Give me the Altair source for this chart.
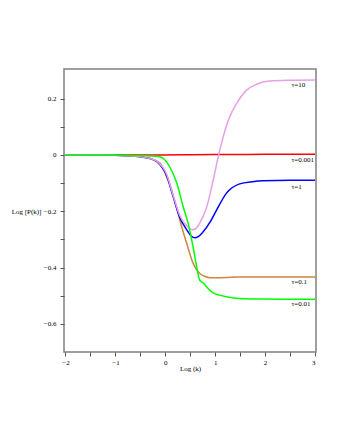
import altair as alt
import pandas as pd

# ---- data ----
red_x = [-2, -1, 0, 0.5, 1, 1.5, 2, 2.5, 3]
red_y = [0, 0, 0, 0.0005, 0.001, 0.0015, 0.002, 0.002, 0.002]

violet_x = [-2, -1.5, -1, -0.75, -0.5, -0.3, -0.17, 0.03, 0.16, 0.29, 0.43, 0.49, 0.55, 0.62,
            0.69, 0.83, 0.96, 1.06, 1.16, 1.29, 1.43, 1.63, 1.83, 2.09, 2.5, 3]
violet_y = [0, 0, -0.001, -0.003, -0.007, -0.013, -0.022, -0.07, -0.145, -0.215, -0.252, -0.262,
            -0.266, -0.26, -0.242, -0.185, -0.09, -0.007, 0.064, 0.135, 0.183, 0.23, 0.251,
            0.262, 0.265, 0.266]

blue_x = [-2, -1.5, -1, -0.75, -0.5, -0.3, -0.17, 0.03, 0.16, 0.29, 0.43, 0.52, 0.59, 0.66,
          0.75, 0.9, 1.03, 1.23, 1.49, 1.75, 1.96, 2.5, 3]
blue_y = [0, 0, -0.001, -0.003, -0.007, -0.013, -0.024, -0.075, -0.15, -0.222, -0.266, -0.288,
          -0.294, -0.29, -0.275, -0.238, -0.195, -0.135, -0.103, -0.095, -0.092, -0.09, -0.09]

brown_x = [-2, -1.5, -1, -0.75, -0.5, -0.3, -0.1, 0.03, 0.09, 0.23, 0.33, 0.43, 0.56, 0.69,
           0.8, 0.89, 1.0, 1.49, 2, 2.5, 3]
brown_y = [0, 0, -0.001, -0.003, -0.007, -0.014, -0.03, -0.08, -0.105, -0.19, -0.256, -0.315,
           -0.386, -0.421, -0.432, -0.436, -0.436, -0.434, -0.434, -0.434, -0.434]

green_x = [-2, -1.5, -1, -0.5, -0.3, -0.11, 0.09, 0.23, 0.36, 0.46, 0.56, 0.63, 0.69, 0.76,
           0.83, 0.9, 0.96, 1.09, 1.25, 1.49, 2, 2.5, 3]
green_y = [0, 0, -0.001, -0.003, -0.004, -0.007, -0.043, -0.10, -0.185, -0.245, -0.33, -0.398,
           -0.445, -0.455, -0.469, -0.482, -0.49, -0.498, -0.505, -0.51, -0.512, -0.513, -0.513]

series = [
    ("τ=0.001", red_x, red_y, "#FF0000"),
    ("τ=0.1", brown_x, brown_y, "#CD853F"),
    ("τ=1", blue_x, blue_y, "#0000FF"),
    ("τ=10", violet_x, violet_y, "#E6A0E6"),
    ("τ=0.01", green_x, green_y, "#00FF00"),
]

label_text = ["τ=10", "τ=0.001", "τ=1", "τ=0.1", "τ=0.01"]
label_x = [2.53, 2.53, 2.53, 2.53, 2.53]
label_y = [0.247, -0.019, -0.115, -0.452, -0.53]

x_ticks = [-2, -1.5, -1, -0.5, 0, 0.5, 1, 1.5, 2, 2.5, 3]
y_ticks = [-0.6, -0.5, -0.4, -0.3, -0.2, -0.1, 0, 0.1, 0.2]

FONT = "Liberation Serif"

xscale = alt.Scale(domain=[-2.03, 3.02], nice=False, zero=False)
yscale = alt.Scale(domain=[-0.70, 0.305], nice=False, zero=False)

xaxis = alt.Axis(
    values=x_ticks, title="Log (k)", grid=False, domain=False,
    tickSize=4, tickColor="#555555", labelPadding=2, labelFontSize=7, labelFont=FONT,
    labelColor="#000000", labelOverlap=False,
    labelExpr="abs(datum.value - round(datum.value)) < 0.01 ? format(datum.value, 'd') : ''",
    titleFont=FONT, titleFontSize=7, titleFontWeight="normal", titleColor="#000000",
    titleY=16, titleBaseline="middle",
)
yaxis = alt.Axis(
    values=y_ticks, title="Log [P(k)]", grid=False, domain=False,
    tickSize=4, tickColor="#555555", labelPadding=4, labelFontSize=7, labelFont=FONT,
    labelColor="#000000", labelOverlap=False,
    labelExpr="abs(round(datum.value*10)) % 2 == 0 ? format(round(datum.value*10)/10, '') : ''",
    titleFont=FONT, titleFontSize=7, titleFontWeight="normal", titleColor="#000000",
    titleAngle=0, titleX=-38, titleY=142, titleAlign="center", titleBaseline="middle",
)

layers = []
for name, xs, ys, col in series:
    df = pd.DataFrame({"x": xs, "y": ys, "s": name})
    layers.append(
        alt.Chart(df).mark_line(color=col, strokeWidth=1.5, interpolate="monotone",
                                clip=True).encode(
            x=alt.X("x:Q", scale=xscale, axis=xaxis),
            y=alt.Y("y:Q", scale=yscale, axis=yaxis))
    )

lab = pd.DataFrame({"x": label_x, "y": label_y, "t": label_text})
layers.append(
    alt.Chart(lab).mark_text(align="left", baseline="middle", font=FONT, fontSize=7,
                             color="#000000").encode(
        x=alt.X("x:Q", scale=xscale, axis=xaxis),
        y=alt.Y("y:Q", scale=yscale, axis=yaxis), text="t:N")
)

chart = alt.layer(*layers).properties(
    width=252, height=283,
    autosize=alt.AutoSizeParams(type="none"),
    padding={"left": 56, "top": 61, "right": 16, "bottom": 60},
    background="#FFFFFF",
).configure_view(stroke="#808080", strokeWidth=1.5).configure_axis(
    labelColor="#000000", titleColor="#000000")

chart.save("out.html", embed_options={"renderer": "svg", "actions": False})
